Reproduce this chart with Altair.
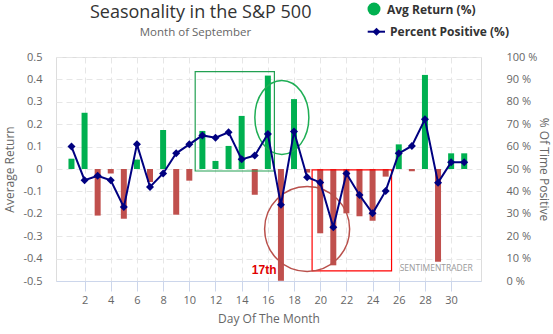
import altair as alt
import pandas as pd

days = list(range(1, 32))
avg_return = [0.046, 0.251, -0.208, -0.020, -0.222, 0.042, -0.058, 0.174, -0.204, -0.052,
              0.170, 0.036, 0.103, 0.237, -0.115, 0.417, -0.499, 0.312, -0.016, -0.287,
              -0.430, -0.198, -0.211, -0.231, -0.034, 0.110, -0.010, 0.420, -0.414, 0.070, 0.070]
pct_positive = [60, 45, 47, 45, 33, 61, 42, 48, 57, 61,
                65, 64, 66.4, 54.3, 56, 65.6, 34, 66.7, 46.3, 44,
                24, 48, 38.4, 30.2, 40.2, 57, 60.3, 72.2, 43.9, 53, 53]
x_ticks = list(range(2, 31, 2))
ret_ticks = [0.5, 0.4, 0.3, 0.2, 0.1, 0, -0.1, -0.2, -0.3, -0.4, -0.5]
pct_ticks = list(range(0, 101, 10))

# annotation boxes (in data units: day, return)
box_x = [10.45, 19.38]
box_x2 = [16.5, 25.45]
box_y = [0.435, -0.004]
box_y2 = [-0.009, -0.455]
box_color = ["#22a052", "#ff0000"]

df = pd.DataFrame({"day": days, "ret": avg_return, "pct": pct_positive})
boxes = pd.DataFrame({"day": box_x, "x2": box_x2, "ret": box_y, "y2": box_y2, "c": box_color})

FONT = "Open Sans"
GRID = "#e6e6e6"
AXC = "#ccd6eb"

xs = alt.Scale(domain=[0.2, 31.9], nice=False, zero=False)
ys = alt.Scale(domain=[-0.5, 0.5], nice=False)

x_axis = alt.Axis(values=x_ticks, grid=True, gridDash=[6, 4], gridColor=GRID,
                  domainColor=AXC, tickColor=AXC, tickSize=10, labelPadding=3,
                  labelFontSize=11, labelColor="#666", labelFont=FONT,
                  titleFont=FONT, titleFontSize=12, titleColor="#666",
                  titleFontWeight="normal", titlePadding=8)
y_axis = alt.Axis(values=ret_ticks, grid=True, gridDash=[6, 4], gridColor=GRID,
                  domain=False, ticks=False, labelPadding=14,
                  labelExpr="toString(datum.value)",
                  labelFontSize=11, labelColor="#666", labelFont=FONT,
                  titleFont=FONT, titleFontSize=12, titleColor="#666",
                  titleFontWeight="normal", titlePadding=6)


def X():
    return alt.X("day:Q", scale=xs, title="Day Of The Month", axis=x_axis)


def Y():
    return alt.Y("ret:Q", scale=ys, title="Average Return", axis=y_axis)


bars = alt.Chart(df).mark_bar(size=6).encode(
    x=X(), y=Y(),
    color=alt.condition(alt.datum.ret > 0, alt.value("#00b050"), alt.value("#c0504d")),
)

rects = alt.Chart(boxes).mark_rect(filled=False, strokeWidth=1.2).encode(
    x=X(), x2="x2:Q", y=Y(), y2="y2:Q",
    stroke=alt.Stroke("c:N", scale=None),
)

green_ellipse = alt.Chart(pd.DataFrame({"day": [17.07], "ret": [0.23]})).mark_point(
    shape="M-0.73,0 A0.73,1 0 1,1 0.73,0 A0.73,1 0 1,1 -0.73,0 Z",
    size=5476, filled=False, stroke="#1fae55", strokeWidth=1.5, opacity=1,
).encode(x=X(), y=Y())

red_circle = alt.Chart(pd.DataFrame({"day": [19.0], "ret": [-0.268]})).mark_point(
    shape="circle", size=7225, filled=False, stroke="#b9504b", strokeWidth=1.5, opacity=1,
).encode(x=X(), y=Y())

lab17 = alt.Chart(pd.DataFrame({"day": [15.72], "ret": [-0.451], "t": ["17th"]})).mark_text(
    font="Arial", fontSize=12, fontWeight="bold", color="#e00000"
).encode(x=X(), y=Y(), text="t:N")

brand = alt.Chart(pd.DataFrame({"day": [28.86], "ret": [-0.442], "t": ["SENTIMENTRADER"]})).mark_text(
    font=FONT, fontSize=8.5, color="#999"
).encode(x=X(), y=Y(), text="t:N")

left = alt.layer(bars, rects, green_ellipse, red_circle, lab17, brand)

line = alt.Chart(df).mark_line(color="#000080", strokeWidth=2,
                               point=alt.OverlayMarkDef(shape="diamond", size=64, filled=True,
                                                        color="#000080")).encode(
    x=X(),
    y=alt.Y("pct:Q", scale=alt.Scale(domain=[0, 100], nice=False), title="% Of Time Positive",
            axis=alt.Axis(orient="right", values=pct_ticks, grid=False, domain=False, ticks=False,
                          labelPadding=25, labelExpr="datum.value + ' %'",
                          labelFontSize=11, labelColor="#666", labelFont=FONT,
                          titleFont=FONT, titleFontSize=12, titleColor="#666",
                          titleFontWeight="normal", titlePadding=0)),
)

# manual legend and title (text marks placed above the plot area)
one = pd.DataFrame({"a": [0]})
leg_dot = alt.Chart(one).mark_point(
    shape="circle", size=169, filled=True, color="#00b050", opacity=1
).encode(x=alt.value(318), y=alt.value(-48))
leg_line = alt.Chart(one).mark_rule(color="#000080", strokeWidth=2).encode(
    x=alt.value(311.7), x2=alt.value(329), y=alt.value(-25.3))
leg_dia = alt.Chart(one).mark_point(
    shape="diamond", size=64, filled=True, color="#000080", opacity=1
).encode(x=alt.value(320.5), y=alt.value(-25.3))
leg_t1 = alt.Chart(pd.DataFrame({"t": ["Avg Return (%)"]})).mark_text(
    font=FONT, fontSize=12, fontWeight="bold", color="#333", align="left", baseline="middle"
).encode(x=alt.value(331), y=alt.value(-47), text="t:N")
leg_t2 = alt.Chart(pd.DataFrame({"t": ["Percent Positive (%)"]})).mark_text(
    font=FONT, fontSize=12, fontWeight="bold", color="#333", align="left", baseline="middle"
).encode(x=alt.value(334), y=alt.value(-25.5), text="t:N")
title_t = alt.Chart(pd.DataFrame({"t": ["Seasonality in the S&P 500"]})).mark_text(
    font=FONT, fontSize=18, color="#333", align="center", baseline="alphabetic"
).encode(x=alt.value(144.7), y=alt.value(-38.6), text="t:N")
sub_t = alt.Chart(pd.DataFrame({"t": ["Month of September"]})).mark_text(
    font=FONT, fontSize=11.5, color="#666", align="center", baseline="alphabetic"
).encode(x=alt.value(139.5), y=alt.value(-21.5), text="t:N")

right = alt.layer(line, leg_dot, leg_line, leg_dia, leg_t1, leg_t2, title_t, sub_t)

chart = alt.layer(left, right).resolve_scale(
    y="independent"
).properties(
    width=425, height=224,
    autosize=alt.AutoSizeParams(type="none"),
    padding={"left": 56, "top": 57, "right": 72, "bottom": 53},
).configure_view(stroke=None).configure(background="white")

chart.save("out.html", embed_options={"renderer": "svg", "actions": False})
